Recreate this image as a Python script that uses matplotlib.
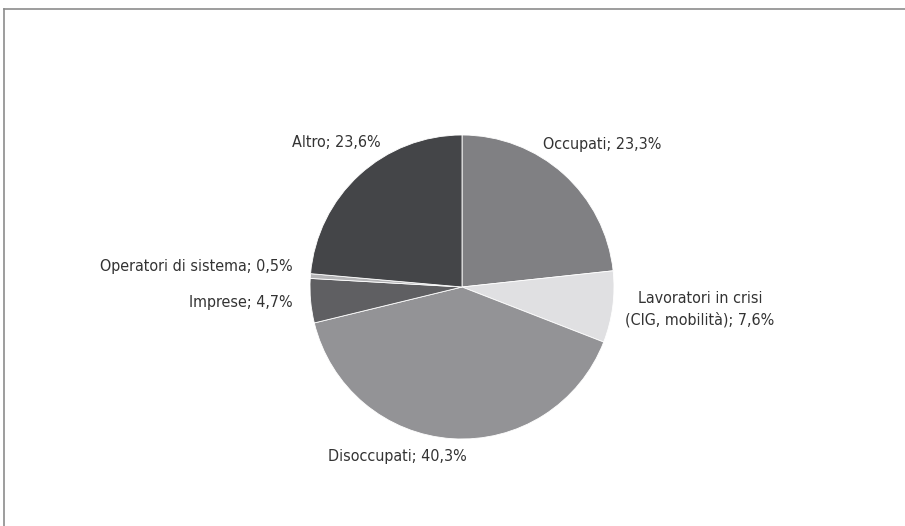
import matplotlib
matplotlib.use('Agg')
import matplotlib.pyplot as plt
from matplotlib.lines import Line2D

# dati
categorie = ['Occupati', 'Lavoratori in crisi\n(CIG, mobilità)', 'Disoccupati',
             'Imprese', 'Operatori di sistema', 'Altro']
valori = [23.3, 7.6, 40.3, 4.7, 0.5, 23.6]
etichette = ['Occupati; 23,3%', 'Lavoratori in crisi\n(CIG, mobilità); 7,6%',
             'Disoccupati; 40,3%', 'Imprese; 4,7%', 'Operatori di sistema; 0,5%',
             'Altro; 23,6%']
colori = ['#808083', '#e0e0e2', '#939396', '#5f5f62', '#b4b4b6', '#444548']

plt.rcParams['font.family'] = ['DejaVu Sans']
plt.rcParams['font.stretch'] = 'condensed'

W, H = 905, 526
cx, cy, r = 462, 287, 152

fig = plt.figure(figsize=(W / 100, H / 100), dpi=100)
ax = fig.add_axes([0, 0, 1, 1])

ax.pie(valori, colors=colori, startangle=90, counterclock=False, radius=1,
       wedgeprops=dict(edgecolor='white', linewidth=0.6))

# limiti impostati dopo pie (che li sovrascrive)
ax.set_xlim(-cx / r, (W - cx) / r)
ax.set_ylim(-(H - cy) / r, cy / r)
ax.set_aspect('equal')
ax.axis('off')

# posizioni etichette (px -> unità dati)
def pos(px, py):
    return (px - cx) / r, (cy - py) / r

testo = dict(fontsize=11.5, color='#333333', fontstretch='condensed')
x, y = pos(543, 145); ax.text(x, y, etichette[0], ha='left', va='center', **testo)
x, y = pos(700, 309); ax.text(x, y, etichette[1], ha='center', va='center', linespacing=1.5, **testo)
x, y = pos(397, 457); ax.text(x, y, etichette[2], ha='center', va='center', **testo)
x, y = pos(293, 302); ax.text(x, y, etichette[3], ha='right', va='center', **testo)
x, y = pos(293, 267); ax.text(x, y, etichette[4], ha='right', va='center', **testo)
x, y = pos(381, 143); ax.text(x, y, etichette[5], ha='right', va='center', **testo)

# cornice superiore e sinistra
fig.add_artist(Line2D([4 / W, 1], [1 - 9 / H, 1 - 9 / H], color='#8c8c8c', lw=1.2))
fig.add_artist(Line2D([4 / W, 4 / W], [0, 1 - 9 / H], color='#8c8c8c', lw=1.2))

fig.savefig('out.png', dpi=100)
